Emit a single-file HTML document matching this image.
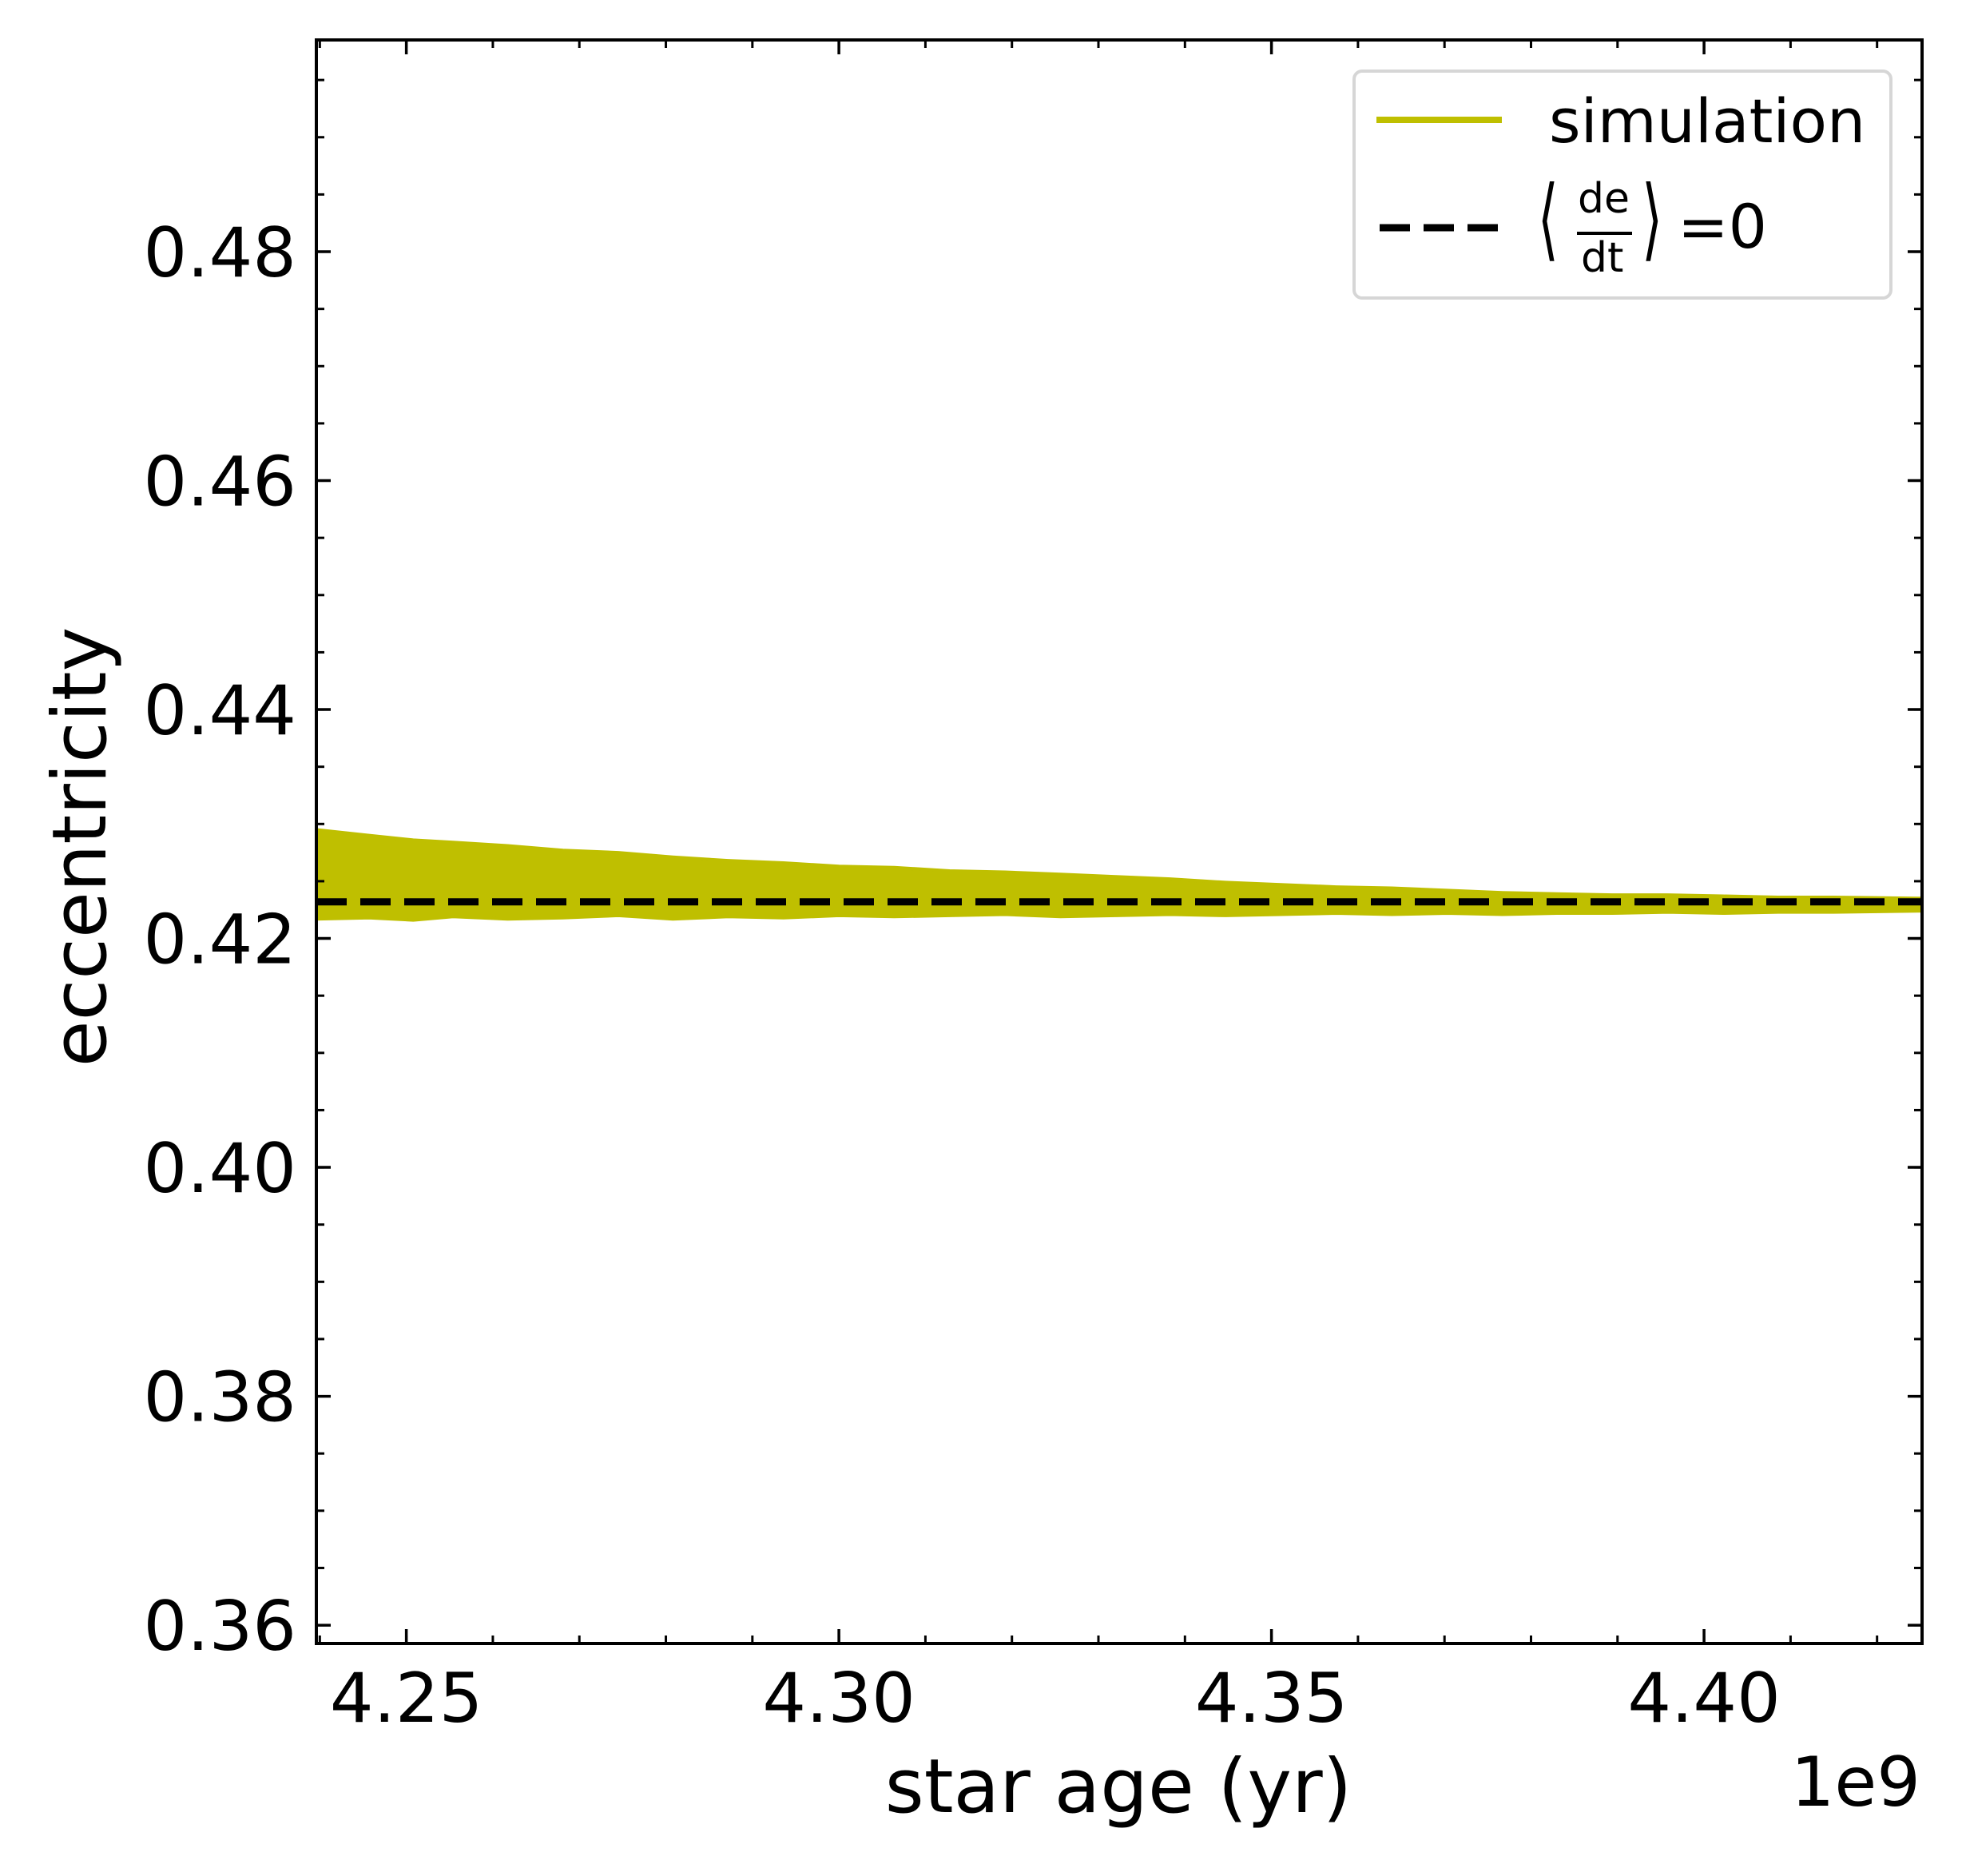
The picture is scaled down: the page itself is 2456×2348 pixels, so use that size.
<!DOCTYPE html>
<html><head><meta charset="utf-8"><style>
html,body{margin:0;padding:0;background:#fff;}
svg text{font-family:"DejaVu Sans","Liberation Sans",sans-serif;fill:#000;}
</style></head><body>
<svg id="chart" width="2456" height="2343" viewBox="0 0 2456 2343" xmlns="http://www.w3.org/2000/svg">
<rect x="0" y="0" width="2456" height="2343" fill="#fff"/>
<g id="plot"></g>
<g id="axes"></g>
<text x="1400" y="2268" font-size="94" text-anchor="middle">star age (yr)</text>
<text x="2404" y="2260" font-size="86" text-anchor="end">1e9</text>
<text transform="translate(132,1060) rotate(-90)" font-size="94" text-anchor="middle">eccentricity</text>
<g>
<rect x="1695" y="89" width="672" height="284" rx="10" fill="#fff" stroke="#d6d6d6" stroke-width="4"/>
<line x1="1723" y1="150" x2="1880" y2="150" stroke="#bfbf00" stroke-width="8"/>
<text x="1939" y="178" font-size="76">simulation</text>
<line x1="1727" y1="285" x2="1876" y2="285" stroke="#000" stroke-width="9" stroke-dasharray="38,17"/>
<g>
<text x="1918" y="312" font-size="112" font-weight="100" transform="scale(0.6,1) translate(1290,0)">⟨</text>
<text x="1975" y="266" font-size="52">de</text>
<line x1="1974" y1="292" x2="2043" y2="292" stroke="#000" stroke-width="4"/>
<text x="1979" y="340" font-size="52">dt</text>
<text x="2045" y="312" font-size="112" transform="scale(0.6,1) translate(1380,0)">⟩</text>
<text x="2100" y="310" font-size="76">=0</text>
</g>
</g>
</svg>
<script>
const xTicks=[4.25,4.30,4.35,4.40];
const xTickLabels=["4.25","4.30","4.35","4.40"];
const yTicks=[0.36,0.38,0.40,0.42,0.44,0.46,0.48];
const yTickLabels=["0.36","0.38","0.40","0.42","0.44","0.46","0.48"];
const ages=[4.2396,4.2457,4.2508,4.2554,4.2617,4.2681,4.2745,4.2808,4.2872,4.2936,4.3000,4.3064,4.3128,4.3192,4.3256,4.3320,4.3383,4.3447,4.3511,4.3575,4.3639,4.3703,4.3767,4.3830,4.3894,4.3958,4.4022,4.4086,4.4150,4.4252];
const upperEcc=[0.4295,0.4290,0.4286,0.4284,0.4281,0.4277,0.4275,0.4271,0.4268,0.4266,0.4263,0.4262,0.4259,0.4258,0.4256,0.4254,0.4252,0.4249,0.4247,0.4245,0.4244,0.4242,0.4240,0.4239,0.4238,0.4238,0.4237,0.4236,0.4236,0.4235];
const lowerEcc=[0.4217,0.4218,0.4216,0.4219,0.4217,0.4218,0.4220,0.4217,0.4219,0.4218,0.4220,0.4219,0.4220,0.4221,0.4219,0.4220,0.4221,0.4220,0.4221,0.4222,0.4221,0.4222,0.4221,0.4222,0.4222,0.4223,0.4222,0.4223,0.4223,0.4224];
const meanEcc=0.4232;
const X0=396,X1=2406,Y0=50,Y1=2057;
const xmin=4.2396,xmax=4.4252,ymin=0.3584,ymax=0.4985;
function sx(v){return X0+(v-xmin)/(xmax-xmin)*(X1-X0);}
function sy(v){return Y1-(v-ymin)/(ymax-ymin)*(Y1-Y0);}
const NS="http://www.w3.org/2000/svg";
function mk(tag,attrs,parent){const e=document.createElementNS(NS,tag);for(const k in attrs)e.setAttribute(k,attrs[k]);parent.appendChild(e);return e;}
const plot=document.getElementById('plot'),axes=document.getElementById('axes');
let d="";
ages.forEach((a,i)=>{d+=(i?"L":"M")+sx(a).toFixed(1)+","+sy(upperEcc[i]).toFixed(1);});
for(let i=ages.length-1;i>=0;i--){d+="L"+sx(ages[i]).toFixed(1)+","+sy(lowerEcc[i]).toFixed(1);}
d+="Z";
const band=mk('path',{d:d,fill:'#bfbf00',stroke:'#bfbf00','stroke-width':4},plot);


const ml=mk('line',{x1:X0,x2:X1,y1:sy(meanEcc),y2:sy(meanEcc),stroke:'#000','stroke-width':9,'stroke-dasharray':'38,17'},plot);


const fr=mk('rect',{x:X0,y:Y0,width:X1-X0,height:Y1-Y0,fill:'none',stroke:'#000','stroke-width':4},axes);


for(let v=4.24;v<=4.4252;v+=0.01){const x=sx(v);if(x<X0||x>X1)continue;
 mk('line',{x1:x,x2:x,y1:Y1,y2:Y1-10,stroke:'#000','stroke-width':3},axes);
 mk('line',{x1:x,x2:x,y1:Y0,y2:Y0+10,stroke:'#000','stroke-width':3},axes);}
for(let v=0.36;v<=0.4985;v+=0.005){const y=sy(v);
 mk('line',{x1:X0,x2:X0+10,y1:y,y2:y,stroke:'#000','stroke-width':3},axes);
 mk('line',{x1:X1,x2:X1-10,y1:y,y2:y,stroke:'#000','stroke-width':3},axes);}
xTicks.forEach((v,i)=>{const x=sx(v);
 mk('line',{x1:x,x2:x,y1:Y1,y2:Y1-18,stroke:'#000','stroke-width':3.5},axes);
 mk('line',{x1:x,x2:x,y1:Y0,y2:Y0+18,stroke:'#000','stroke-width':3.5},axes);
 const t=mk('text',{x:x,y:2155,'font-size':86,'text-anchor':'middle'},axes);t.textContent=xTickLabels[i];
 
 });
yTicks.forEach((v,i)=>{const y=sy(v);
 mk('line',{x1:X0,x2:X0+18,y1:y,y2:y,stroke:'#000','stroke-width':3.5},axes);
 mk('line',{x1:X1,x2:X1-18,y1:y,y2:y,stroke:'#000','stroke-width':3.5},axes);
 const t=mk('text',{x:371,y:y+31,'font-size':86,'text-anchor':'end'},axes);t.textContent=yTickLabels[i];
 
 });
</script>
</body></html>
